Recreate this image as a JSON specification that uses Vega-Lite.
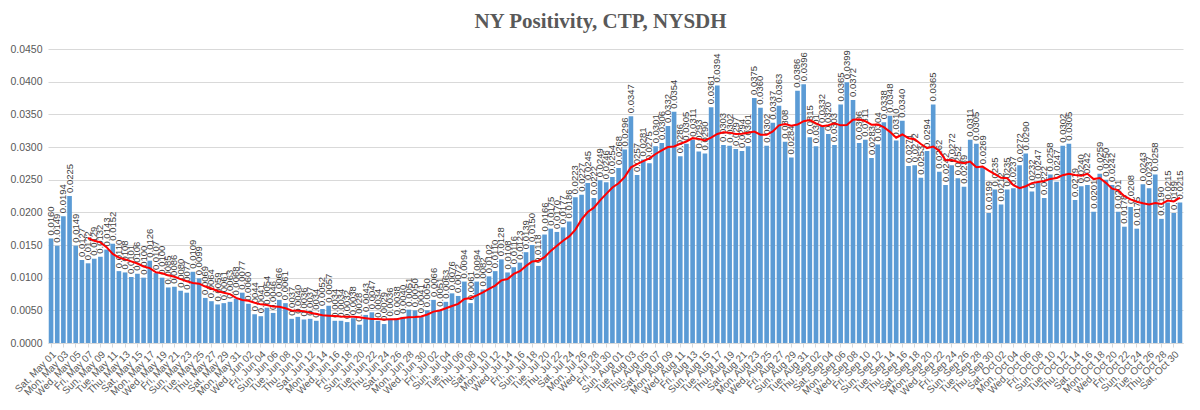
{
  "$schema": "https://vega.github.io/schema/vega-lite/v6.json",
  "autosize": "none",
  "width": 1135,
  "height": 294,
  "padding": {"left": 48, "top": 49, "right": 17, "bottom": 67},
  "background": "white",
  "title": {
    "text": "NY Positivity, CTP, NYSDH",
    "font": "Liberation Serif",
    "fontSize": 21,
    "fontWeight": "bold",
    "color": "#595959",
    "anchor": "middle",
    "baseline": "alphabetic",
    "offset": 2,
    "dx": -15,
    "dy": 7
  },
  "config": {
    "view": {"stroke": null},
    "axis": {"labelFont": "Liberation Sans", "labelColor": "#595959", "domainColor": "#d9d9d9", "tickColor": "#d9d9d9", "gridColor": "#d9d9d9"}
  },
  "data": {
    "values": [
      {"d":"2021-05-01","v":0.0160},{"d":"2021-05-02","v":0.0149},{"d":"2021-05-03","v":0.0194},{"d":"2021-05-04","v":0.0225},{"d":"2021-05-05","v":0.0149},{"d":"2021-05-06","v":0.0127},{"d":"2021-05-07","v":0.0122},{"d":"2021-05-08","v":0.0129},{"d":"2021-05-09","v":0.0132},{"d":"2021-05-10","v":0.0143},
      {"d":"2021-05-11","v":0.0152},{"d":"2021-05-12","v":0.0110},{"d":"2021-05-13","v":0.0108},{"d":"2021-05-14","v":0.0101},{"d":"2021-05-15","v":0.0106},{"d":"2021-05-16","v":0.0100},{"d":"2021-05-17","v":0.0126},{"d":"2021-05-18","v":0.0107},{"d":"2021-05-19","v":0.0100},{"d":"2021-05-20","v":0.0085},
      {"d":"2021-05-21","v":0.0086},{"d":"2021-05-22","v":0.0080},{"d":"2021-05-23","v":0.0077},{"d":"2021-05-24","v":0.0109},{"d":"2021-05-25","v":0.0099},{"d":"2021-05-26","v":0.0069},{"d":"2021-05-27","v":0.0064},{"d":"2021-05-28","v":0.0059},{"d":"2021-05-29","v":0.0061},{"d":"2021-05-30","v":0.0063},
      {"d":"2021-05-31","v":0.0068},{"d":"2021-06-01","v":0.0077},{"d":"2021-06-02","v":0.0060},{"d":"2021-06-03","v":0.0044},{"d":"2021-06-04","v":0.0041},{"d":"2021-06-05","v":0.0054},{"d":"2021-06-06","v":0.0046},{"d":"2021-06-07","v":0.0066},{"d":"2021-06-08","v":0.0061},{"d":"2021-06-09","v":0.0037},
      {"d":"2021-06-10","v":0.0040},{"d":"2021-06-11","v":0.0036},{"d":"2021-06-12","v":0.0037},{"d":"2021-06-13","v":0.0034},{"d":"2021-06-14","v":0.0052},{"d":"2021-06-15","v":0.0057},{"d":"2021-06-16","v":0.0034},{"d":"2021-06-17","v":0.0034},{"d":"2021-06-18","v":0.0032},{"d":"2021-06-19","v":0.0038},
      {"d":"2021-06-20","v":0.0028},{"d":"2021-06-21","v":0.0043},{"d":"2021-06-22","v":0.0047},{"d":"2021-06-23","v":0.0034},{"d":"2021-06-24","v":0.0029},{"d":"2021-06-25","v":0.0036},{"d":"2021-06-26","v":0.0038},{"d":"2021-06-27","v":0.0040},{"d":"2021-06-28","v":0.0051},{"d":"2021-06-29","v":0.0050},
      {"d":"2021-06-30","v":0.0041},{"d":"2021-07-01","v":0.0050},{"d":"2021-07-02","v":0.0066},{"d":"2021-07-03","v":0.0051},{"d":"2021-07-04","v":0.0063},{"d":"2021-07-05","v":0.0076},{"d":"2021-07-06","v":0.0072},{"d":"2021-07-07","v":0.0094},{"d":"2021-07-08","v":0.0061},{"d":"2021-07-09","v":0.0094},
      {"d":"2021-07-10","v":0.0082},{"d":"2021-07-11","v":0.0102},{"d":"2021-07-12","v":0.0110},{"d":"2021-07-13","v":0.0128},{"d":"2021-07-14","v":0.0108},{"d":"2021-07-15","v":0.0116},{"d":"2021-07-16","v":0.0123},{"d":"2021-07-17","v":0.0139},{"d":"2021-07-18","v":0.0150},{"d":"2021-07-19","v":0.0118},
      {"d":"2021-07-20","v":0.0166},{"d":"2021-07-21","v":0.0175},{"d":"2021-07-22","v":0.0170},{"d":"2021-07-23","v":0.0177},{"d":"2021-07-24","v":0.0186},{"d":"2021-07-25","v":0.0223},{"d":"2021-07-26","v":0.0227},{"d":"2021-07-27","v":0.0245},{"d":"2021-07-28","v":0.0222},{"d":"2021-07-29","v":0.0249},
      {"d":"2021-07-30","v":0.0246},{"d":"2021-07-31","v":0.0254},{"d":"2021-08-01","v":0.0268},{"d":"2021-08-02","v":0.0296},{"d":"2021-08-03","v":0.0347},{"d":"2021-08-04","v":0.0257},{"d":"2021-08-05","v":0.0281},{"d":"2021-08-06","v":0.0275},{"d":"2021-08-07","v":0.0301},{"d":"2021-08-08","v":0.0306},
      {"d":"2021-08-09","v":0.0332},{"d":"2021-08-10","v":0.0354},{"d":"2021-08-11","v":0.0286},{"d":"2021-08-12","v":0.0305},{"d":"2021-08-13","v":0.0311},{"d":"2021-08-14","v":0.0293},{"d":"2021-08-15","v":0.0290},{"d":"2021-08-16","v":0.0361},{"d":"2021-08-17","v":0.0394},{"d":"2021-08-18","v":0.0303},
      {"d":"2021-08-19","v":0.0302},{"d":"2021-08-20","v":0.0297},{"d":"2021-08-21","v":0.0294},{"d":"2021-08-22","v":0.0301},{"d":"2021-08-23","v":0.0375},{"d":"2021-08-24","v":0.0360},{"d":"2021-08-25","v":0.0302},{"d":"2021-08-26","v":0.0337},{"d":"2021-08-27","v":0.0363},{"d":"2021-08-28","v":0.0308},
      {"d":"2021-08-29","v":0.0284},{"d":"2021-08-30","v":0.0386},{"d":"2021-08-31","v":0.0396},{"d":"2021-09-01","v":0.0315},{"d":"2021-09-02","v":0.0301},{"d":"2021-09-03","v":0.0332},{"d":"2021-09-04","v":0.0320},{"d":"2021-09-05","v":0.0303},{"d":"2021-09-06","v":0.0365},{"d":"2021-09-07","v":0.0399},
      {"d":"2021-09-08","v":0.0372},{"d":"2021-09-09","v":0.0306},{"d":"2021-09-10","v":0.0311},{"d":"2021-09-11","v":0.0283},{"d":"2021-09-12","v":0.0304},{"d":"2021-09-13","v":0.0338},{"d":"2021-09-14","v":0.0348},{"d":"2021-09-15","v":0.0310},{"d":"2021-09-16","v":0.0340},{"d":"2021-09-17","v":0.0271},
      {"d":"2021-09-18","v":0.0272},{"d":"2021-09-19","v":0.0253},{"d":"2021-09-20","v":0.0294},{"d":"2021-09-21","v":0.0365},{"d":"2021-09-22","v":0.0262},{"d":"2021-09-23","v":0.0242},{"d":"2021-09-24","v":0.0272},{"d":"2021-09-25","v":0.0252},{"d":"2021-09-26","v":0.0239},{"d":"2021-09-27","v":0.0311},
      {"d":"2021-09-28","v":0.0305},{"d":"2021-09-29","v":0.0269},{"d":"2021-09-30","v":0.0199},{"d":"2021-10-01","v":0.0235},{"d":"2021-10-02","v":0.0212},{"d":"2021-10-03","v":0.0235},{"d":"2021-10-04","v":0.0237},{"d":"2021-10-05","v":0.0272},{"d":"2021-10-06","v":0.0290},{"d":"2021-10-07","v":0.0232},
      {"d":"2021-10-08","v":0.0247},{"d":"2021-10-09","v":0.0222},{"d":"2021-10-10","v":0.0258},{"d":"2021-10-11","v":0.0247},{"d":"2021-10-12","v":0.0302},{"d":"2021-10-13","v":0.0305},{"d":"2021-10-14","v":0.0219},{"d":"2021-10-15","v":0.0240},{"d":"2021-10-16","v":0.0242},{"d":"2021-10-17","v":0.0201},
      {"d":"2021-10-18","v":0.0259},{"d":"2021-10-19","v":0.0250},{"d":"2021-10-20","v":0.0242},{"d":"2021-10-21","v":0.0201},{"d":"2021-10-22","v":0.0178},{"d":"2021-10-23","v":0.0208},{"d":"2021-10-24","v":0.0175},{"d":"2021-10-25","v":0.0243},{"d":"2021-10-26","v":0.0237},{"d":"2021-10-27","v":0.0258},
      {"d":"2021-10-28","v":0.0190},{"d":"2021-10-29","v":0.0215},{"d":"2021-10-30","v":0.0199},{"d":"2021-10-31","v":0.0215}
    ]
  },
  "encoding": {
    "x": {
      "field": "d",
      "type": "ordinal",
      "sort": null,
      "scale": {"paddingInner": 0.25, "paddingOuter": 0.12},
      "axis": {
        "title": null,
        "labelAngle": -45,
        "labelFontSize": 10,
        "labelPadding": 2,
        "tickSize": 4,
        "labelExpr": "utcFormat(toDate(datum.value), '%a, %b %d')",
        "values": ["2021-05-01","2021-05-03","2021-05-05","2021-05-07","2021-05-09","2021-05-11","2021-05-13","2021-05-15","2021-05-17","2021-05-19","2021-05-21","2021-05-23","2021-05-25","2021-05-27","2021-05-29","2021-05-31",
          "2021-06-02","2021-06-04","2021-06-06","2021-06-08","2021-06-10","2021-06-12","2021-06-14","2021-06-16","2021-06-18","2021-06-20","2021-06-22","2021-06-24","2021-06-26","2021-06-28","2021-06-30",
          "2021-07-02","2021-07-04","2021-07-06","2021-07-08","2021-07-10","2021-07-12","2021-07-14","2021-07-16","2021-07-18","2021-07-20","2021-07-22","2021-07-24","2021-07-26","2021-07-28","2021-07-30",
          "2021-08-01","2021-08-03","2021-08-05","2021-08-07","2021-08-09","2021-08-11","2021-08-13","2021-08-15","2021-08-17","2021-08-19","2021-08-21","2021-08-23","2021-08-25","2021-08-27","2021-08-29","2021-08-31",
          "2021-09-02","2021-09-04","2021-09-06","2021-09-08","2021-09-10","2021-09-12","2021-09-14","2021-09-16","2021-09-18","2021-09-20","2021-09-22","2021-09-24","2021-09-26","2021-09-28","2021-09-30",
          "2021-10-02","2021-10-04","2021-10-06","2021-10-08","2021-10-10","2021-10-12","2021-10-14","2021-10-16","2021-10-18","2021-10-20","2021-10-22","2021-10-24","2021-10-26","2021-10-28","2021-10-30"]
      }
    },
    "y": {
      "field": "v",
      "type": "quantitative",
      "scale": {"domain": [0, 0.04500001], "nice": false},
      "axis": {"title": null, "format": ".4f", "values": [0,0.005,0.01,0.015,0.02,0.025,0.03,0.035,0.04,0.045], "labelOverlap": false, "labelFontSize": 10.5, "domain": false, "ticks": false, "labelPadding": 6}
    }
  },
  "layer": [
    {
      "mark": {"type": "bar", "color": "#5B9BD5"}
    },
    {
      "mark": {"type": "text", "angle": -90, "align": "left", "baseline": "middle", "dx": 3, "fontSize": 9.5, "font": "Liberation Sans", "color": "#404040"},
      "encoding": {
        "text": {"field": "v", "type": "quantitative", "format": ".4f"}
      }
    },
    {
      "transform": [
        {"window": [{"op": "mean", "field": "v", "as": "ma"}, {"op": "row_number", "as": "rn"}], "frame": [-6, 0]},
        {"filter": "datum.rn >= 7"}
      ],
      "mark": {"type": "line", "color": "#FF0000", "strokeWidth": 2},
      "encoding": {
        "y": {
          "field": "ma",
          "type": "quantitative",
          "scale": {"domain": [0, 0.04500001], "nice": false},
          "axis": {"title": null, "format": ".4f", "values": [0,0.005,0.01,0.015,0.02,0.025,0.03,0.035,0.04,0.045], "labelOverlap": false, "labelFontSize": 10.5, "domain": false, "ticks": false, "labelPadding": 6}
        }
      }
    }
  ]
}
